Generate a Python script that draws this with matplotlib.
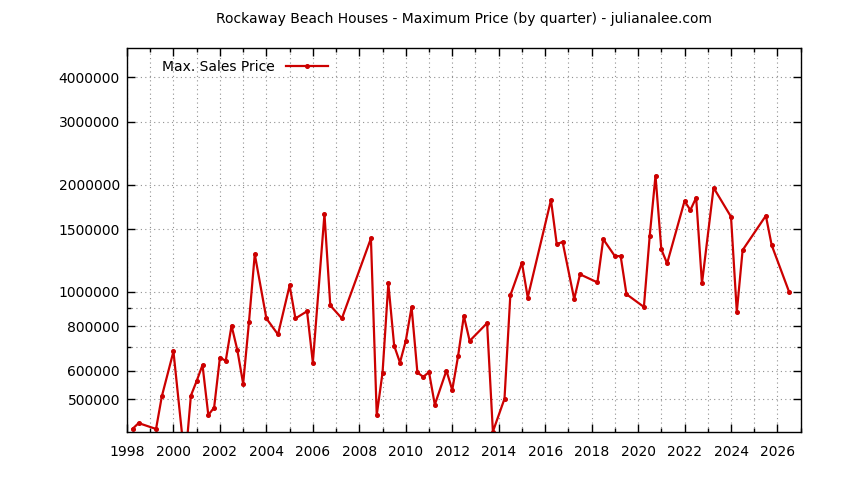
import matplotlib
matplotlib.use("Agg")
import matplotlib.pyplot as plt
from matplotlib.ticker import FixedLocator, FixedFormatter, MultipleLocator, NullFormatter

plt.rcParams['font.family'] = ['DejaVu Sans']

# quarter (decimal year) and maximum sale price
quarters = [
    1998.25, 1998.5, 1999.25, 1999.5, 2000.0, 2000.5, 2000.75, 2001.0,
    2001.25, 2001.5, 2001.75, 2002.0, 2002.25, 2002.5, 2002.75, 2003.0,
    2003.25, 2003.5, 2004.0, 2004.5, 2005.0, 2005.25, 2005.75, 2006.0,
    2006.5, 2006.75, 2007.25, 2008.5, 2008.75, 2009.0, 2009.25, 2009.5,
    2009.75, 2010.0, 2010.25, 2010.5, 2010.75, 2011.0, 2011.25, 2011.75,
    2012.0, 2012.25, 2012.5, 2012.75, 2013.5, 2013.75, 2014.25, 2014.5,
    2015.0, 2015.25, 2016.25, 2016.5, 2016.75, 2017.25, 2017.5, 2018.25,
    2018.5, 2019.0, 2019.25, 2019.5, 2020.25, 2020.5, 2020.75, 2021.0,
    2021.25, 2022.0, 2022.25, 2022.5, 2022.75, 2023.25, 2024.0, 2024.25,
    2024.5, 2025.5, 2025.75, 2026.5,
]
max_price = [
    413000, 428000, 412000, 509000, 680000, 330000, 511000, 562000,
    623000, 451000, 473000, 654000, 640000, 804000, 686000, 552000,
    822000, 1276000, 842000, 759000, 1042000, 842000, 882000, 633000,
    1654000, 916000, 842000, 1413000, 451000, 593000, 1056000, 706000,
    633000, 728000, 906000, 594000, 577000, 595000, 482000, 601000,
    530000, 659000, 856000, 728000, 817000, 405000, 501000, 977000,
    1207000, 964000, 1811000, 1360000, 1382000, 954000, 1120000, 1063000,
    1406000, 1260000, 1260000, 985000, 907000, 1434000, 2120000, 1316000,
    1202000, 1799000, 1697000, 1838000, 1056000, 1961000, 1625000, 878000,
    1310000, 1636000, 1353000, 1000000,
]

y_ticks = [500000, 600000, 800000, 1000000, 1500000, 2000000, 3000000, 4000000]
y_minor = [700000, 900000]

fig = plt.figure(figsize=(8.44, 4.8), dpi=100)
ax = fig.add_axes([127 / 844, 1 - 432 / 480, (800.7 - 127) / 844, (432 - 48) / 480])

ax.plot(quarters, max_price, color="#cc0000", lw=1.6, marker="o", ms=2.6,
        label="Max. Sales Price")

ax.set_yscale("log")
ax.set_xlim(1998, 2027)
ax.set_ylim(404000, 4840000)

ax.xaxis.set_major_locator(MultipleLocator(2))
ax.xaxis.set_minor_locator(MultipleLocator(1))
ax.yaxis.set_major_locator(FixedLocator(y_ticks))
ax.yaxis.set_major_formatter(FixedFormatter([str(v) for v in y_ticks]))
ax.yaxis.set_minor_locator(FixedLocator(y_minor))
ax.yaxis.set_minor_formatter(NullFormatter())

ax.tick_params(which="both", direction="in", top=True, right=True,
               labelsize=10, colors="black", width=1)
ax.tick_params(which="major", length=6)
ax.tick_params(which="minor", length=3)
ax.tick_params(axis="x", pad=9)
ax.tick_params(axis="y", pad=5)

ax.grid(True, which="both", color="#909090", linestyle=(0, (1, 3)), lw=0.8)
for s in ax.spines.values():
    s.set_linewidth(1)
    s.set_color("black")

ax.set_title("Rockaway Beach Houses - Maximum Price (by quarter) - julianalee.com",
             fontsize=10, pad=18)

ax.legend(loc="upper left", frameon=False, markerfirst=False, fontsize=10,
          handlelength=3.0, numpoints=1, borderaxespad=0.2,
          bbox_to_anchor=(0.04, 0.99))

fig.savefig("out.png", dpi=100)
